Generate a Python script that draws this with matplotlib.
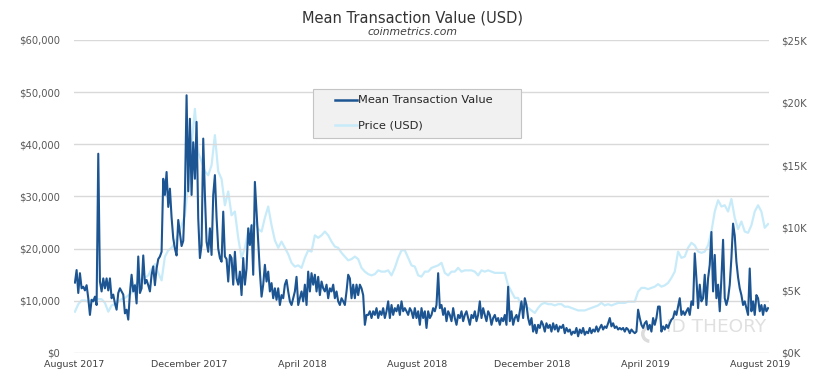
import matplotlib
matplotlib.use("Agg")
import matplotlib.pyplot as plt
import matplotlib.ticker as mticker
from matplotlib.patches import Rectangle, Wedge
from matplotlib.lines import Line2D
from matplotlib.transforms import IdentityTransform
import pandas as pd
import numpy as np

# Mean transaction value (thousand USD), ~every 1.8 days from 2017-08-02 to 2019-08-09
mtv_k = [
    # Aug - Nov 2017
    13.5, 15.9, 11.5, 15.3, 12.4, 12.7, 12.0, 13.0, 10.5, 7.3, 10.2, 9.9, 10.8, 9.2, 38.2, 13.7,
    11.8, 14.3, 12.4, 14.3, 12.0, 14.3, 10.5, 11.2, 9.5, 8.3, 11.5, 12.4, 11.8, 11.2, 7.6, 8.3,
    6.4, 11.5, 15.0, 11.8, 13.0, 9.5, 18.5, 11.5, 12.4, 18.7, 13.3, 14.0, 13.0, 11.8, 15.0, 16.6,
    13.0, 16.2, 18.0, 18.5, 19.4, 33.4, 30.3, 34.7, 28.0, 31.5, 26.0, 22.0, 20.0, 18.7, 25.5, 23.0,
    20.5, 21.5,
    # Dec 2017 - Mar 2018
    30.0, 49.4, 31.0, 44.9, 30.3, 40.4, 33.4, 44.3, 25.8, 18.2, 20.7, 41.1, 30.3, 21.3, 19.4, 23.9,
    18.8, 30.3, 34.1, 26.0, 20.0, 18.2, 17.5, 27.1, 18.5, 18.0, 13.7, 18.8, 18.2, 13.1, 19.4, 14.3,
    13.1, 15.6, 11.1, 18.2, 13.1, 16.2, 23.9, 20.7, 24.5, 15.0, 32.8, 27.1, 21.3, 15.6, 10.8, 13.1,
    16.9, 13.7, 15.6, 11.8, 13.4, 10.5, 12.4, 10.2, 12.4, 9.2, 11.1, 10.5, 13.1, 14.0, 11.8, 9.9,
    9.2, 10.5, 11.8, 14.6, 9.2,
    # Apr - Jul 2018
    10.5, 11.8, 9.9, 13.1, 9.2, 15.6, 11.8, 15.3, 13.1, 15.0, 11.8, 14.6, 11.1, 13.7, 12.4, 11.8,
    13.1, 10.5, 12.4, 11.8, 13.1, 10.5, 11.8, 9.9, 9.2, 10.5, 9.9, 9.2, 11.8, 15.0, 14.3, 10.5,
    13.1, 10.5, 13.1, 11.1, 13.1, 12.4, 11.1, 5.4, 7.3, 7.3, 8.0, 6.7, 8.0, 7.3, 8.6, 6.7,
    8.0, 7.3, 8.6, 6.7, 8.0, 9.9, 6.7, 9.2, 7.3, 8.6, 8.0, 9.2, 7.3, 9.9, 8.0, 8.6,
    8.0, 7.3, 8.6, 8.0, 6.7,
    # Aug - Nov 2018
    8.6, 6.7, 8.0, 5.4, 8.6, 6.7, 8.0, 4.8, 8.0, 6.7, 7.3, 8.6, 8.0, 9.2, 15.3, 8.6,
    9.2, 7.3, 8.6, 6.1, 8.0, 7.3, 6.1, 8.6, 6.7, 5.4, 7.3, 6.7, 8.0, 6.1, 7.3, 8.0,
    6.7, 5.4, 7.3, 6.7, 8.0, 6.1, 7.3, 9.9, 6.7, 8.6, 7.3, 6.1, 8.0, 7.3, 5.4, 6.7,
    7.3, 6.1, 6.7, 5.4, 6.7, 6.1, 7.3, 5.4, 12.7, 6.1, 8.0, 5.4, 6.7, 7.3, 6.1, 8.0,
    9.9, 6.7, 10.5, 9.2, 6.7,
    # Dec 2018 - Mar 2019
    5.4, 6.7, 4.1, 5.4, 3.8, 5.4, 4.8, 6.1, 5.4, 4.1, 5.7, 4.8, 5.4, 4.1, 5.7, 4.5,
    5.4, 4.1, 5.1, 4.8, 5.4, 3.8, 4.8, 4.1, 4.5, 3.5, 4.1, 3.8, 4.8, 3.2, 4.5, 3.8,
    4.8, 3.5, 4.1, 3.8, 4.8, 3.8, 4.5, 4.1, 5.1, 4.1, 4.8, 5.4, 4.5, 5.1, 4.8, 5.7,
    6.7, 5.1, 5.7, 4.8, 5.1, 4.5, 4.8, 4.5, 4.8, 4.1, 4.8, 4.5, 3.8, 4.5, 4.1, 3.8,
    4.1, 8.3, 6.7, 5.4, 4.8,
    # Apr - Aug 2019
    5.7, 6.1, 4.5, 5.4, 4.1, 6.7, 5.4, 6.7, 8.9, 8.9, 4.1, 5.1, 4.5, 5.4, 4.8, 5.7,
    6.4, 6.7, 8.0, 7.3, 8.9, 10.5, 7.3, 8.0, 7.3, 8.0, 8.6, 7.3, 9.9, 9.2, 19.1, 14.3,
    8.6, 13.1, 9.9, 10.5, 15.0, 9.2, 14.3, 16.9, 23.2, 11.8, 18.8, 10.5, 13.1, 8.0, 14.3, 21.7,
    10.5, 9.2, 10.5, 13.1, 18.2, 24.8, 22.5, 17.5, 14.5, 12.4, 11.1, 9.2, 9.9, 8.6, 7.3, 16.2,
    8.0, 9.9, 7.3, 11.1, 10.5, 8.0, 9.2, 7.3, 9.2, 8.0, 8.6,
]

# BTC price (thousand USD), ~every 3.5 days over the same span
price_k = [
    3.3, 3.9, 4.2, 4.2, 4.1, 4.2, 4.4, 4.3, 4.3, 4.0, 3.3, 3.8, 3.9, 4.1, 4.3, 4.4,
    4.6, 4.8, 5.4, 5.7, 5.9, 6.0, 6.2, 6.7, 7.1, 6.4, 5.8, 7.7, 8.2, 8.4, 8.8, 9.5, 10.2,
    11.0, 13.5, 16.5, 19.5, 16.0, 15.3, 14.5, 14.2, 15.0, 17.4, 14.5, 13.9, 11.8, 12.9, 11.0, 11.3,
    9.2, 7.6, 8.4, 9.7, 10.1, 10.5, 9.9, 9.7, 10.8, 11.7, 10.2, 9.0, 8.4, 8.9, 8.4, 7.9,
    7.2, 6.9, 7.0,
    6.8, 7.6, 8.2, 8.1, 9.4, 9.2, 9.4, 9.7, 9.4, 8.9, 8.5, 8.4, 8.0, 7.7, 7.4, 7.5,
    7.7, 7.5, 6.8, 6.5, 6.3, 6.2, 6.3, 6.6, 6.5, 6.5, 6.6, 6.2, 6.8, 7.6, 8.2, 8.2,
    7.6, 7.0,
    6.9, 6.2, 6.1, 6.5, 6.5, 6.8, 6.9, 7.0, 7.2, 6.4, 6.2, 6.5, 6.5, 6.8, 6.5, 6.6,
    6.6, 6.6, 6.5, 6.2, 6.6, 6.5, 6.6, 6.5, 6.4, 6.4, 6.4, 6.4, 5.4, 4.9, 4.4, 4.4,
    3.6, 3.7, 3.6,
    3.4, 3.2, 3.6, 3.9, 4.0, 3.9, 3.9, 3.8, 3.9, 3.9, 3.7, 3.7, 3.6, 3.5, 3.4, 3.4,
    3.4, 3.5, 3.6, 3.7, 3.8, 4.0, 3.8, 3.9, 3.8, 3.9, 4.0, 4.0, 4.0, 4.1, 4.1, 4.1,
    4.9, 5.2,
    5.2, 5.1, 5.2, 5.3, 5.5, 5.3, 5.4, 5.6, 6.0, 6.5, 8.1, 7.6, 7.7, 8.4, 8.8, 8.6,
    8.1, 8.0, 8.1, 8.6, 9.7, 11.3, 12.2, 11.7, 11.8, 11.3, 12.3, 10.8, 9.9, 10.5, 9.7, 9.6,
    10.2, 11.3, 11.8, 11.3, 10.0, 10.3,
]

start_date = "2017-08-02"
end_date = "2019-08-09"
x_tick_labels = ["August 2017", "December 2017", "April 2018", "August 2018",
                 "December 2018", "April 2019", "August 2019"]
x_tick_dates = ["2017-08-01", "2017-12-01", "2018-04-01", "2018-08-01",
                "2018-12-01", "2019-04-01", "2019-08-01"]
series_names = ["Mean Transaction Value", "Price (USD)"]

mtv = np.array(mtv_k) * 1000
price = np.array(price_k) * 1000
mtv_dates = pd.date_range(start_date, end_date, periods=len(mtv))
price_dates = pd.date_range(start_date, end_date, periods=len(price))

plt.rcParams["font.family"] = ["DejaVu Sans"]

DARK = "#1c5592"
LIGHT = "#c8ebfa"
TXT = "#595959"
W, H = 826, 392

fig = plt.figure(figsize=(W/100, H/100), dpi=100)
ax = fig.add_axes([74/W, 39/H, (769-74)/W, (353-40)/H])
ax2 = ax.twinx()
ax.set_zorder(ax2.get_zorder() + 1)
ax.patch.set_visible(False)

# watermark (drawn beneath the data lines)
fig.text(716/W, 1 - 327/H, "ID THEORY", fontsize=13.3, color="#e0e0e0", ha="center",
         va="center", zorder=0)
fig.add_artist(Wedge((650, H - 334), 9, 95, 265, width=3.5, transform=IdentityTransform(),
                     facecolor="#dcdcdc", edgecolor="none", zorder=0))

ax2.plot(price_dates, price, color=LIGHT, lw=1.6, solid_joinstyle="round")
ax.plot(mtv_dates, mtv, color=DARK, lw=1.5, solid_joinstyle="round")

ax.set_ylim(0, 60000)
ax2.set_ylim(0, 25000)
ax.set_xlim(pd.Timestamp("2017-08-01"), pd.Timestamp("2019-08-10"))

ax.set_yticks(np.arange(0, 60001, 10000))
ax.yaxis.set_major_formatter(mticker.FuncFormatter(lambda v, p: f"${v:,.0f}"))
ax2.set_yticks(np.arange(0, 25001, 5000))
ax2.yaxis.set_major_formatter(mticker.FuncFormatter(lambda v, p: f"${v/1000:.0f}K"))

ax.set_xticks(pd.to_datetime(x_tick_dates))
ax.set_xticklabels(x_tick_labels)

ax.grid(axis="y", color="#d9d9d9", lw=1.0)
ax.set_axisbelow(True)
for a in (ax, ax2):
    for s in a.spines.values():
        s.set_visible(False)
    a.tick_params(length=0, labelsize=7.2, labelcolor=TXT)
ax.tick_params(axis="y", pad=10)
ax2.tick_params(axis="y", pad=9)
ax.tick_params(axis="x", pad=5, labelsize=6.8, labelcolor="#404040")

# title
fig.text(0.5, 1 - 18/H, "Mean Transaction Value (USD)", ha="center", va="center",
         fontsize=10.5, color="#333333")
fig.text(0.5, 1 - 32/H, "coinmetrics.com", ha="center", va="center",
         fontsize=7.8, color="#404040", style="italic")

# legend box (figure pixel layout)
fig.add_artist(Rectangle((313/W, 1 - 138/H), (521-313)/W, (138-89)/H,
                         transform=fig.transFigure, facecolor="#f1f1f1",
                         edgecolor="#c4c4c4", lw=0.8, zorder=20))
for ypx, name, col in [(100, series_names[0], DARK), (125, series_names[1], LIGHT)]:
    fig.add_artist(Line2D([335/W, 357/W], [1 - ypx/H, 1 - ypx/H], transform=fig.transFigure,
                          color=col, lw=1.8, zorder=21))
    fig.text(358/W, 1 - ypx/H, name, ha="left", va="center", fontsize=8.2,
             color="#262626", zorder=22)

fig.savefig("out.png", dpi=100)
